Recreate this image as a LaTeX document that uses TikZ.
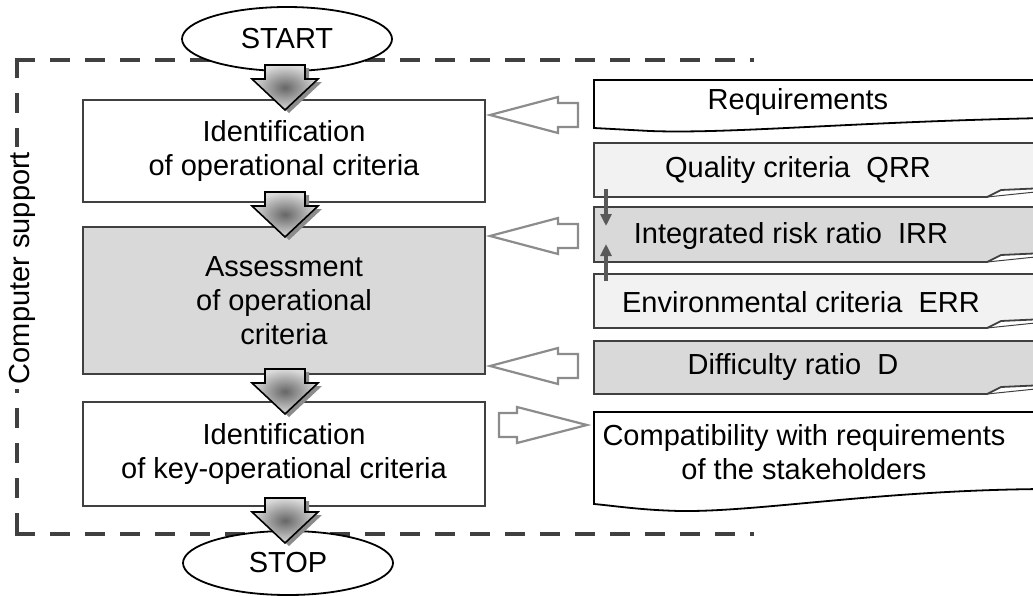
\documentclass[tikz,border=0pt]{standalone}
\usepackage{fontspec}
\setmainfont{Liberation Sans}
\usetikzlibrary{shapes.geometric,arrows.meta}
\definecolor{edge}{HTML}{404040}
\definecolor{lightfill}{HTML}{F2F2F2}
\definecolor{midfill}{HTML}{D9D9D9}
\definecolor{blockgray}{HTML}{8C8C8C}
\definecolor{smallarr}{HTML}{595959}
\newcommand\flowarrow[1]{%
  \begin{scope}[shift={(285,#1)}]
    \fill[black!45] (-16,3) -- (24,3) -- (24,17) -- (37,17) -- (4,48) -- (-29,17) -- (-16,17) -- cycle;
    \shade[inner color=black!60, outer color=black!14, draw=black, line width=1.6pt]
      (-20,0) -- (20,0) -- (20,14) -- (33,14) -- (0,45) -- (-33,14) -- (-20,14) -- cycle;
  \end{scope}}
\newcommand\leftblock[1]{%
  \draw[blockgray, line width=2.2pt, fill=white, line join=miter]
    (490,#1) -- (558,#1-18) -- (558,#1-12) -- (578,#1-12) -- (578,#1+12) -- (558,#1+12) -- (558,#1+18) -- cycle;}
\begin{document}
\begin{tikzpicture}[x=1pt,y=-1pt,
  lbl/.style={font=\fontsize{29}{34}\selectfont, align=center, inner sep=0pt},
  mainbox/.style={draw=edge, line width=2pt, lbl},
  dashline/.style={draw=edge, line width=4.5pt, dash pattern=on 16pt off 19pt, line cap=rect},
  term/.style={ellipse, draw=black, line width=1.8pt, fill=white, minimum width=210pt, minimum height=64pt, lbl},
  docedge/.style={draw=black, line width=1.8pt, fill=white},
  ratiobox/.style={draw=edge, line width=1.8pt},
  smallarrow/.style={smallarr, line width=4.5pt, -{Triangle[length=12pt,width=11pt]}}]
\useasboundingbox (0,0) rectangle (1033,595);
\clip (0,0) rectangle (1033,595);

% dashed computer-support frame (open at the right)
\draw[dashline] (17,60) -- (752,60);
\draw[dashline] (17,60) -- (17,534);
\draw[dashline] (17,534) -- (752,534);
\node[lbl, rotate=90, fill=white, inner sep=5pt] (cs) at (22,268) {Computer support};

% terminators
\node[term] (start) at (287,39) {START};
\node[term] (stop) at (288,563) {STOP};

% main process boxes
\node[mainbox, minimum width=402pt, minimum height=102pt] (b1) at (284,151) {Identification\\of operational criteria};
\node[mainbox, fill=midfill, minimum width=402pt, minimum height=147pt] (b2) at (284,300.5) {Assessment\\of operational\\criteria};
\node[mainbox, minimum width=402pt, minimum height=104pt] (b3) at (284,454) {Identification\\of key-operational criteria};

% flow arrows
\flowarrow{65}
\flowarrow{192}
\flowarrow{369}
\flowarrow{498}

% right-hand documents
\draw[docedge] (594,80) -- (1045,80) -- (1045,118) .. controls (850,122) and (730,134) .. (650,131) -- (594,128) -- cycle;
\node[lbl] (req) at (798,102) {Requirements};

\draw[ratiobox, fill=lightfill] (594,143) -- (1045,143) -- (1045,188) -- (1001,190) -- (987,197) -- (594,197) -- cycle;
\draw[edge, line width=1pt] (987,197) -- (1045,191);
\node[lbl] (qrr) at (798,170) {Quality criteria\ \ QRR};

\draw[ratiobox, fill=midfill] (594,207) -- (1045,207) -- (1045,253) -- (1001,255) -- (987,262) -- (594,262) -- cycle;
\draw[edge, line width=1pt] (987,262) -- (1045,256);
\node[lbl] (irr) at (791,236) {Integrated risk ratio\ \ IRR};

\draw[ratiobox, fill=lightfill] (594,274) -- (1045,274) -- (1045,319) -- (1001,321) -- (987,328) -- (594,328) -- cycle;
\draw[edge, line width=1pt] (987,328) -- (1045,322);
\node[lbl] (err) at (801,302) {Environmental criteria\ \ ERR};

\draw[ratiobox, fill=midfill] (594,341) -- (1045,341) -- (1045,385) -- (1001,387) -- (987,394) -- (594,394) -- cycle;
\draw[edge, line width=1pt] (987,394) -- (1045,388);
\node[lbl] (dr) at (793,367) {Difficulty ratio\ \ D};

\draw[docedge] (594,412) -- (1045,412) -- (1045,489) .. controls (880,490) and (760,512) .. (680,511) .. controls (640,510) and (616,506) .. (594,504) -- cycle;
\node[lbl] (comp) at (804,452) {Compatibility with requirements\\of the stakeholders};

% small arrows between ratio boxes
\coordinate (qa) at (606,189);
\coordinate (qb) at (606,226);
\coordinate (ea) at (606,281);
\coordinate (eb) at (606,244);
\draw[smallarrow] (qa) -- (qb);
\draw[smallarrow] (ea) -- (eb);

% hollow block arrows
\leftblock{115}
\leftblock{236}
\leftblock{366}
\draw[blockgray, line width=2.2pt, fill=white, line join=miter]
  (587,425) -- (517,407) -- (517,413) -- (499,413) -- (499,437) -- (517,437) -- (517,443) -- cycle;
\end{tikzpicture}
\end{document}
